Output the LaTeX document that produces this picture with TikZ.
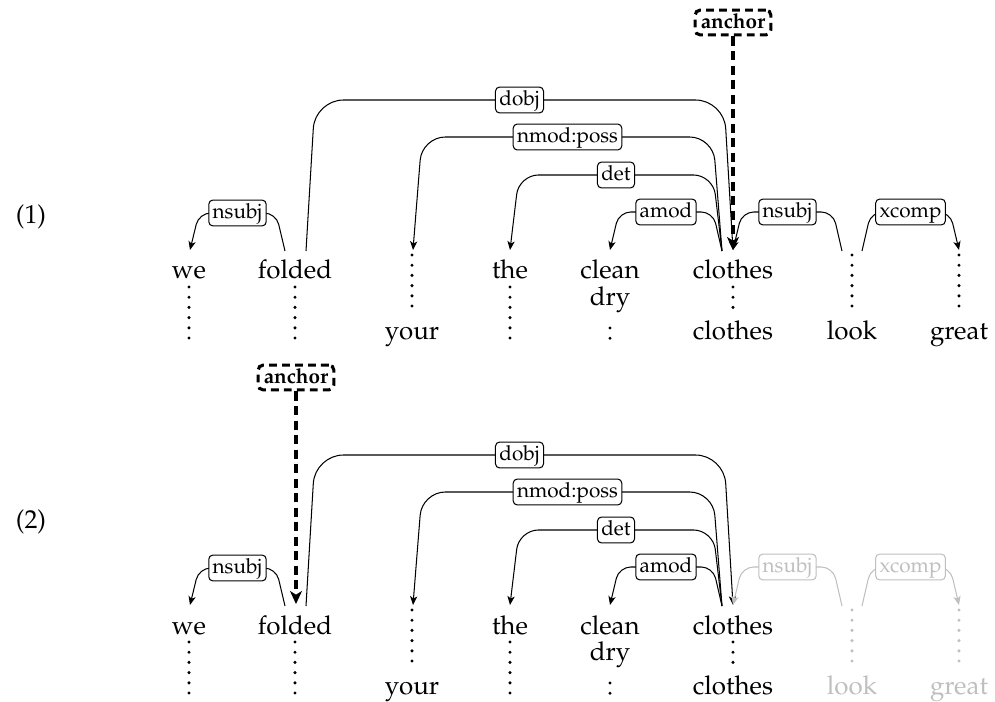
\documentclass[tikz,border=0pt]{standalone}
\usepackage[T1]{fontenc}
\usepackage{mathpazo}
\usetikzlibrary{arrows.meta,calc}
\tikzset{
  word/.style={anchor=base, inner sep=0pt, font=\fontsize{10}{12}\selectfont},
  lab/.style={draw, fill=white, rounded corners=1.6pt, inner xsep=1.5pt, inner ysep=0pt,
    minimum height=10pt, text height=5.6pt, text depth=1.6pt, font=\fontsize{8}{9.6}\selectfont},
  dep/.style={line width=0.4pt, -{Stealth[length=3.4pt,width=2.8pt,inset=0.9pt]}},
  vdot/.style={line width=1.3pt, line cap=round, dash pattern=on 0pt off 3.94pt},
  anchorbox/.style={draw, line width=1.2pt, dash pattern=on 3pt off 2pt, rounded corners=2pt,
    inner xsep=2.2pt, inner ysep=0pt, minimum height=9.6pt, text height=5.8pt, text depth=1.4pt,
    font=\fontsize{8}{9.6}\selectfont\bfseries},
  anchorarrow/.style={line width=1.2pt, dash pattern=on 3.6pt off 2pt,
    -{Stealth[length=5pt,width=4.6pt,inset=1.4pt]}},
  fade/.style={},
  rowlabel/.style={inner sep=0pt, font=\fontsize{10}{12}\selectfont},
}
\newcommand\deprow[1]{%
  % words, upper line
  \node[word] (#1we) at (189,279) {we};
  \node[word] (#1folded) at (295,279) {folded};
  \node[word] (#1the) at (510,279) {the};
  \node[word] (#1clean) at (610,279) {clean};
  \node[word] (#1dry) at (610,306) {dry};
  \node[word] (#1clothes) at (733,279) {clothes};
  % words, lower line
  \node[word] (#1your) at (412,340) {your};
  \node[word] (#1clothesb) at (733,340) {clothes};
  \node[word,fade] (#1look) at (852,340) {look};
  \node[word,fade] (#1great) at (959,340) {great};
  % dotted columns
  \draw[vdot] (189,287) -- (189,339);
  \draw[vdot] (295,287) -- (295,339);
  \draw[vdot] (412,255) -- (412,307.5);
  \draw[vdot] (510,287) -- (510,339);
  \draw[vdot] (610,328) -- (610,339);
  \draw[vdot] (733,287) -- (733,308.5);
  \draw[vdot,fade] (852,255) -- (852,307.5);
  \draw[vdot,fade] (959,255) -- (959,307.5);
  % arc ends
  \coordinate (#1fL) at (285,251);
  \coordinate (#1fR) at (306,251);
  \coordinate (#1fT) at (296,249);
  \coordinate (#1weT) at (190,250);
  \coordinate (#1yourT) at (413,250);
  \coordinate (#1theT) at (510,250);
  \coordinate (#1cleanT) at (610,250);
  \coordinate (#1cL) at (722,251);
  \coordinate (#1cT) at (733,250);
  \coordinate (#1lL) at (842,251);
  \coordinate (#1lR) at (862,251);
  \coordinate (#1greatT) at (959,250);
  % arcs
  \draw[dep,rounded corners=4.5pt] (#1fL) -- (276,213) -- node[lab] (#1l1) {nsubj} (199,213) -- (#1weT);
  \draw[dep,rounded corners=11pt] (#1fR) -- (315,100) -- node[lab] (#1l2) {dobj} (724,100) -- (#1cT);
  \draw[dep,rounded corners=9pt] (#1cL) -- (713,137) -- node[lab] (#1l3) {nmod:poss} (422,137) -- (#1yourT);
  \draw[dep,rounded corners=7.5pt] (#1cL) -- (713,175) -- node[lab] (#1l4) {det} (519,175) -- (#1theT);
  \draw[dep,rounded corners=4.5pt] (#1cL) -- (713,212) -- node[lab] (#1l5) {amod} (619,212) -- (#1cleanT);
  \draw[dep,fade,rounded corners=4.5pt] (#1lL) -- (833,212) -- node[lab,fade,fill=white] (#1l6) {nsubj} (742,212) -- (#1cT);
  \draw[dep,fade,rounded corners=4.5pt] (#1lR) -- (871,212) -- node[lab,fade,fill=white] (#1l7) {xcomp} (950,212) -- (#1greatT);
}
\begin{document}
\begin{tikzpicture}[x=0.386pt,y=-0.386pt]
  \useasboundingbox (0,0) rectangle (995,702);
  % row 1
  \node[rowlabel] (r1) at (31,217) {(1)};
  \begin{scope}
    \deprow{a}
    \node[anchorbox] (aanchor) at (733,22.5) {anchor};
    \draw[anchorarrow] (aanchor) -- (acT);
  \end{scope}
  % row 2
  \node[rowlabel] (r2) at (31,522) {(2)};
  \begin{scope}[shift={(0,355)}, fade/.style={color=black!25}]
    \deprow{b}
    \node[anchorbox] (banchor) at (296,22.5) {anchor};
    \draw[anchorarrow] (banchor) -- (bfT);
  \end{scope}
\end{tikzpicture}
\end{document}
